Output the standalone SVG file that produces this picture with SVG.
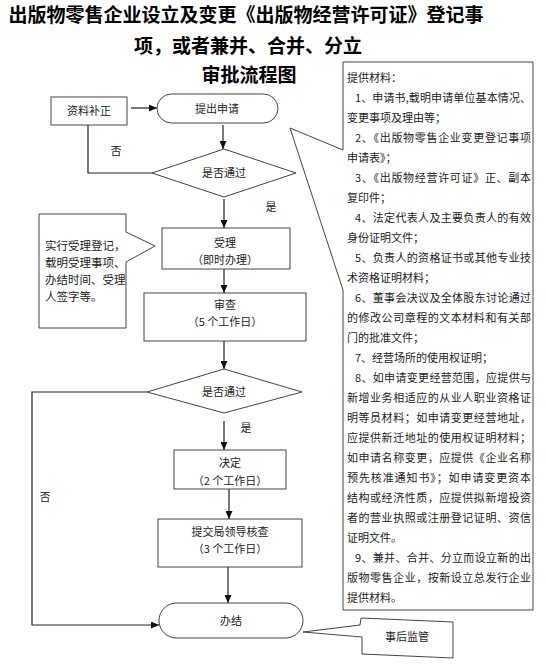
<svg xmlns="http://www.w3.org/2000/svg" width="546" height="668" viewBox="0 0 546 668">
<defs>
<marker id="arr" markerUnits="userSpaceOnUse" markerWidth="8" markerHeight="7" refX="8" refY="3.5" orient="auto"><path d="M0,0 L8,3.5 L0,7 z" fill="#111"/></marker>
<style>
.t{font-family:"Noto Sans CJK SC","Noto Sans",sans-serif;fill:#222}
.title{font-size:19px;font-weight:bold;fill:#000;text-anchor:middle}
.n{font-size:11px;text-anchor:middle}
.b{font-size:11px}
.s{fill:#fff;stroke:#444;stroke-width:1}
.c{fill:none;stroke:#222;stroke-width:1.2}
</style>
</defs>
<rect width="546" height="668" fill="#fff"/>
<g id="title">
<text class="t title" x="246" y="22">出版物零售企业设立及变更《出版物经营许可证》登记事</text>
<text class="t title" x="248" y="53">项，或者兼并、合并、分立</text>
<text class="t title" x="249" y="82">审批流程图</text>
</g>
<g id="connectors">
<line class="c" x1="131" y1="108" x2="157" y2="108" marker-end="url(#arr)"/>
<line class="c" x1="223" y1="125" x2="223" y2="149" marker-end="url(#arr)"/>
<polyline class="c" points="152,173 88,173 88,125"/>
<line class="c" x1="224" y1="199" x2="224" y2="228" marker-end="url(#arr)"/>
<line class="c" x1="224" y1="269" x2="224" y2="293" marker-end="url(#arr)"/>
<line class="c" x1="224" y1="341" x2="224" y2="369" marker-end="url(#arr)"/>
<line class="c" x1="224" y1="421" x2="224" y2="450" marker-end="url(#arr)"/>
<polyline class="c" points="147,392 32,392 32,625 159,625" marker-end="url(#arr)"/>
<line class="c" x1="229" y1="489" x2="229" y2="519" marker-end="url(#arr)"/>
<line class="c" x1="228" y1="567" x2="228" y2="603" marker-end="url(#arr)"/>
<text class="t n" x="116" y="155">否</text>
<text class="t n" x="271" y="211">是</text>
<text class="t n" x="246" y="432">是</text>
<text class="t n" x="45" y="501">否</text>
</g>
<g id="n_buzheng">
<rect class="s" x="51" y="97" width="76" height="28"/>
<text class="t n" x="89" y="115">资料补正</text>
</g>
<g id="n_shenqing">
<rect class="s" x="157" y="94" width="121" height="29" rx="14.5"/>
<text class="t n" x="217" y="113">提出申请</text>
</g>
<g id="n_dec1">
<polygon class="s" points="224,149 296,173 224,197 152,173"/>
<text class="t n" x="224" y="177">是否通过</text>
</g>
<g id="n_shouli">
<rect class="s" x="162" y="228" width="128" height="41"/>
<text class="t n" x="225" y="247">受理</text>
<text class="t n" x="225" y="264">（即时办理）</text>
</g>
<g id="n_shouli_note">
<polygon class="s" points="39,214 126,214 126,232 155,246 126,262 126,328 39,328"/>
<text class="t b" x="45" y="250" style="font-size:11.5px">实行受理登记，</text>
<text class="t b" x="45" y="267" style="font-size:11.5px">载明受理事项、</text>
<text class="t b" x="45" y="284" style="font-size:11.5px">办结时间、受理</text>
<text class="t b" x="45" y="301" style="font-size:11.5px">人签字等。</text>
</g>
<g id="n_shencha">
<rect class="s" x="144" y="293" width="162" height="48"/>
<text class="t n" x="225" y="309">审查</text>
<text class="t n" x="225" y="326">（5 个工作日）</text>
</g>
<g id="n_dec2">
<polygon class="s" points="224,369 302,392 224,413 147,392"/>
<text class="t n" x="224" y="396">是否通过</text>
</g>
<g id="n_jueding">
<rect class="s" x="174" y="450" width="112" height="39"/>
<text class="t n" x="230" y="467">决定</text>
<text class="t n" x="230" y="485">（2 个工作日）</text>
</g>
<g id="n_hecha">
<rect class="s" x="158" y="519" width="144" height="48"/>
<text class="t n" x="230" y="536">提交局领导核查</text>
<text class="t n" x="230" y="553">（3 个工作日）</text>
</g>
<g id="n_banjie">
<rect class="s" x="159" y="603" width="144" height="35" rx="17.5"/>
<text class="t n" x="231" y="625">办结</text>
</g>
<g id="n_jianguan">
<polygon class="s" points="303,632 360,625 361,618 453,622 453,658 362,654 362,637"/>
<text class="t n" x="407" y="641">事后监管</text>
</g>
<g id="n_cailiao">
<polygon class="s" points="343,62 533,62 533,610 343,610 343,290 290,128 343,150"/>
<g class="t b">
<text x="347" y="82">提供材料：</text>
<text x="355" y="102" textLength="176" lengthAdjust="spacing">1、申请书,载明申请单位基本情况、</text>
<text x="347" y="122">变更事项及理由等；</text>
<text x="355" y="142" textLength="176" lengthAdjust="spacing">2、《出版物零售企业变更登记事项</text>
<text x="347" y="162">申请表》；</text>
<text x="355" y="182" textLength="176" lengthAdjust="spacing">3、《出版物经营许可证》正、副本</text>
<text x="347" y="202">复印件；</text>
<text x="355" y="222" textLength="176" lengthAdjust="spacing">4、法定代表人及主要负责人的有效</text>
<text x="347" y="242">身份证明文件；</text>
<text x="355" y="262" textLength="176" lengthAdjust="spacing">5、负责人的资格证书或其他专业技</text>
<text x="347" y="282">术资格证明材料；</text>
<text x="355" y="302" textLength="176" lengthAdjust="spacing">6、董事会决议及全体股东讨论通过</text>
<text x="347" y="322" textLength="184" lengthAdjust="spacing">的修改公司章程的文本材料和有关部</text>
<text x="347" y="342">门的批准文件；</text>
<text x="355" y="362">7、经营场所的使用权证明；</text>
<text x="355" y="382" textLength="176" lengthAdjust="spacing">8、如申请变更经营范围，应提供与</text>
<text x="347" y="402" textLength="184" lengthAdjust="spacing">新增业务相适应的从业人职业资格证</text>
<text x="347" y="422" textLength="184" lengthAdjust="spacing">明等员材料；如申请变更经营地址，</text>
<text x="347" y="442" textLength="184" lengthAdjust="spacing">应提供新迁地址的使用权证明材料；</text>
<text x="347" y="462" textLength="184" lengthAdjust="spacing">如申请名称变更，应提供《企业名称</text>
<text x="347" y="482" textLength="184" lengthAdjust="spacing">预先核准通知书》；如申请变更资本</text>
<text x="347" y="502" textLength="184" lengthAdjust="spacing">结构或经济性质，应提供拟新增投资</text>
<text x="347" y="522" textLength="184" lengthAdjust="spacing">者的营业执照或注册登记证明、资信</text>
<text x="347" y="542">证明文件。</text>
<text x="355" y="562" textLength="176" lengthAdjust="spacing">9、兼并、合并、分立而设立新的出</text>
<text x="347" y="582" textLength="184" lengthAdjust="spacing">版物零售企业，按新设立总发行企业</text>
<text x="347" y="602">提供材料。</text>
</g>
</g>
</svg>
